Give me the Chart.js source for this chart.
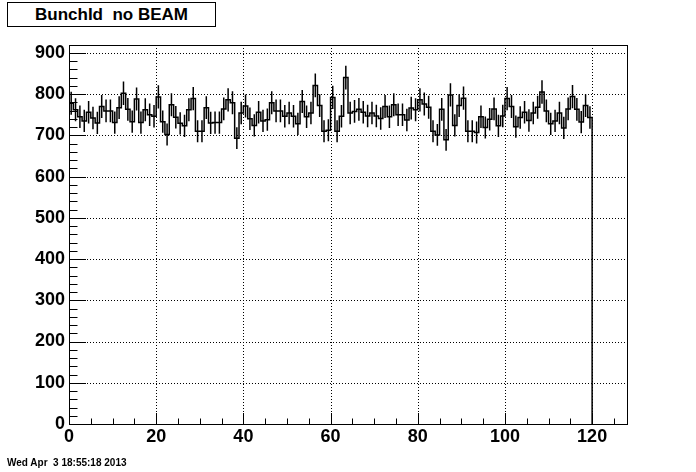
<!DOCTYPE html>
<html>
<head>
<meta charset="utf-8">
<script src="https://cdn.jsdelivr.net/npm/chart.js@4.4.0/dist/chart.umd.min.js"></script>
<style>
  html, body { margin: 0; padding: 0; background: #fff; }
  #wrap { position: relative; width: 696px; height: 472px; }
  #title {
    position: absolute; left: 7px; top: 2px; width: 207px; height: 23px;
    border: 1px solid #000; background: #fff;
    font: bold 17px "Liberation Sans", Arial, sans-serif;
    text-align: center; line-height: 23px; white-space: pre;
  }
  #stamp {
    position: absolute; left: 7px; top: 457px;
    font: bold 10px "Liberation Sans", Arial, sans-serif; white-space: pre;
  }
</style>
</head>
<body>
<div id="wrap">
  <canvas id="histo" width="696" height="472"></canvas>
  <div id="title">BunchId  no BEAM</div>
  <div id="stamp">Wed Apr  3 18:55:18 2013</div>
</div>
<script>
// bin contents, one per bin (bins of width 1 starting at 0)
const counts = [
  778, 762, 745, 735, 756, 742, 730, 770, 759, 759,
  731, 767, 802, 763, 733, 788, 731, 762, 750, 746,
  793, 733, 702, 774, 744, 729, 723, 762, 789, 710,
  710, 767, 730, 731, 731, 764, 786, 779, 693, 754,
  771, 740, 724, 756, 735, 738, 779, 759, 759, 746,
  754, 746, 728, 782, 745, 754, 821, 772, 710, 712,
  792, 710, 746, 840, 754, 758, 763, 756, 747, 754,
  747, 741, 770, 745, 774, 750, 750, 737, 766, 762,
  786, 776, 768, 710, 701, 763, 689, 798, 724, 772,
  790, 710, 710, 707, 745, 719, 739, 764, 723, 747,
  789, 770, 721, 743, 756, 736, 754, 768, 805, 759,
  728, 735, 754, 718, 764, 794, 763, 732, 772, 743
];
const binStart = 0;
const binWidth = 1;
const xTicks = [0, 20, 40, 60, 80, 100, 120];
const yTicks = [0, 100, 200, 300, 400, 500, 600, 700, 800, 900];
const xRange = [0, 128];
const yRange = [0, 919];

// outline of the histogram: left edge of every bin, then drop to 0
const outline = [{ x: binStart, y: 0 }];
counts.forEach((c, i) => outline.push({ x: binStart + i * binWidth, y: c }));
outline.push({ x: binStart + counts.length * binWidth, y: 0 });

const rootFrame = {
  id: 'rootFrame',
  beforeDatasetsDraw(chart) {
    const { ctx, chartArea: a, scales: { x, y } } = chart;
    ctx.save();
    ctx.strokeStyle = '#000';
    ctx.lineWidth = 1;
    ctx.setLineDash([1, 2]);
    ctx.beginPath();
    xTicks.forEach(v => {
      if (v <= xRange[0]) return;
      const px = Math.round(x.getPixelForValue(v)) + 0.5;
      ctx.moveTo(px, a.top); ctx.lineTo(px, a.bottom);
    });
    yTicks.forEach(v => {
      if (v <= yRange[0]) return;
      const py = Math.round(y.getPixelForValue(v)) + 0.5;
      ctx.moveTo(a.left, py); ctx.lineTo(a.right, py);
    });
    ctx.stroke();
    ctx.restore();
  },
  afterDatasetsDraw(chart) {
    const { ctx, chartArea: a, scales: { x, y } } = chart;
    ctx.save();
    ctx.strokeStyle = '#000';

    // error bars: poisson error of each bin
    ctx.lineWidth = 1.5;
    ctx.beginPath();
    counts.forEach((c, i) => {
      const err = Math.sqrt(c);
      const px = x.getPixelForValue(binStart + (i + 0.5) * binWidth);
      ctx.moveTo(px, y.getPixelForValue(c - err));
      ctx.lineTo(px, y.getPixelForValue(c + err));
    });
    ctx.stroke();

    // frame
    ctx.lineWidth = 1;
    ctx.strokeRect(Math.round(a.left) + 0.5, Math.round(a.top) + 0.5,
      Math.round(a.right - a.left), Math.round(a.bottom - a.top));

    // ticks inside the frame, bottom and left only
    ctx.beginPath();
    for (let v = xRange[0]; v <= xRange[1]; v += 5) {
      const px = Math.round(x.getPixelForValue(v)) + 0.5;
      const len = v % 20 === 0 ? 11 : 5.5;
      ctx.moveTo(px, a.bottom); ctx.lineTo(px, a.bottom - len);
    }
    for (let v = yRange[0]; v <= yRange[1]; v += 20) {
      const py = Math.round(y.getPixelForValue(v)) + 0.5;
      const len = v % 100 === 0 ? 17 : 8.5;
      ctx.moveTo(a.left, py); ctx.lineTo(a.left + len, py);
    }
    ctx.stroke();
    ctx.restore();
  }
};

Chart.defaults.font.family = '"Liberation Sans", Arial, sans-serif';
Chart.defaults.color = '#000';

new Chart(document.getElementById('histo'), {
  type: 'line',
  data: {
    datasets: [{
      data: outline,
      stepped: true,
      borderColor: '#000',
      borderWidth: 1.5,
      pointRadius: 0,
      fill: false
    }]
  },
  options: {
    responsive: false,
    animation: false,
    devicePixelRatio: 1,
    layout: { padding: { top: 45, right: 69, bottom: 0, left: 0 } },
    plugins: { legend: { display: false }, tooltip: { enabled: false } },
    scales: {
      x: {
        type: 'linear',
        min: xRange[0],
        max: xRange[1],
        afterBuildTicks: s => { s.ticks = xTicks.map(v => ({ value: v })); },
        afterFit: s => { s.height = 48; },
        grid: { display: false, drawTicks: false },
        border: { display: false },
        ticks: { font: { size: 18, weight: 'bold' }, padding: 2, maxRotation: 0 }
      },
      y: {
        min: yRange[0],
        max: yRange[1],
        afterBuildTicks: s => { s.ticks = yTicks.map(v => ({ value: v })); },
        afterFit: s => { s.width = 69; },
        grid: { display: false, drawTicks: false },
        border: { display: false },
        ticks: { font: { size: 18, weight: 'bold' }, padding: 4 }
      }
    }
  },
  plugins: [rootFrame]
});
</script>
</body>
</html>
